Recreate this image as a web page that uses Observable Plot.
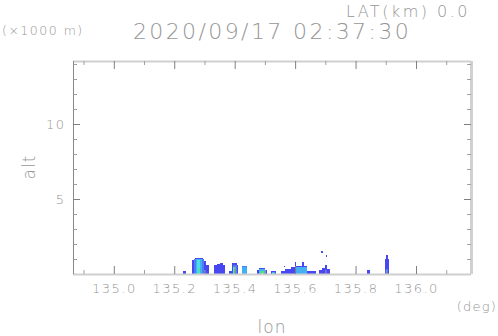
<!DOCTYPE html>
<html>
<head>
<meta charset="utf-8">
<script src="https://cdn.jsdelivr.net/npm/d3@7"></script>
<script src="https://cdn.jsdelivr.net/npm/@observablehq/plot@0.6"></script>
<style>
  html, body { margin: 0; padding: 0; background: #fff; }
</style>
</head>
<body>
<div id="chart"></div>
<script>
// ---- axes / ticks ----
const lonDomain = [134.865, 136.182];
const altDomain = [0, 14.2];
const xMajor = [135.0, 135.2, 135.4, 135.6, 135.8, 136.0];
const xMinor = [134.9, 135.1, 135.3, 135.5, 135.7, 135.9, 136.1];
const yMajor = [5, 10];
const yMinor = [1, 2, 3, 4, 6, 7, 8, 9, 11, 12, 13, 14];

// ---- echo intensity levels ----
const levels = [1, 2, 3, 4, 5, 6];
const levelColors = ["#4848f2", "#4a80f6", "#42b0f2", "#4cdcea", "#52e08e", "#d4e048"];

// ---- echo cells (lon from, lon to, alt from km, alt to km, level) ----
const segLon0 = [
  135.229, 135.259, 135.269, 135.295, 135.305,
  135.333, 135.341, 135.351, 135.360,
  135.381, 135.390, 135.407,
  135.423,
  135.475, 135.482, 135.500,
  135.519,
  135.552, 135.566, 135.588, 135.562,
  135.600, 135.604, 135.624,
  135.640,
  135.679, 135.688, 135.699, 135.704, 135.686, 135.701,
  135.837,
  135.897, 135.900,
  // level 2
  135.266, 135.395, 135.900,
  // level 3
  135.272, 135.604, 135.425, 135.482, 135.522,
  // level 4
  135.276, 135.396,
  // level 5
  135.278, 135.398, 135.485, 135.525,
  // level 6
  135.489
];
const segLon1 = [
  135.239, 135.269, 135.295, 135.305, 135.315,
  135.341, 135.351, 135.360, 135.368,
  135.390, 135.407, 135.412,
  135.442,
  135.482, 135.500, 135.507,
  135.537,
  135.566, 135.588, 135.600, 135.566,
  135.604, 135.640, 135.628,
  135.669,
  135.688, 135.699, 135.704, 135.715, 135.692, 135.704,
  135.848,
  135.911, 135.908,
  135.298, 135.407, 135.908,
  135.292, 135.638, 135.441, 135.500, 135.534,
  135.285, 135.403,
  135.283, 135.403, 135.497, 135.531,
  135.494
];
const segAlt0 = [
  0, 0, 0, 0, 0,
  0, 0, 0, 0,
  0, 0, 0,
  0,
  0, 0, 0,
  0,
  0, 0, 0, 0.45,
  0, 0, 0,
  0,
  0, 0, 0, 0, 1.42, 1.11,
  0,
  0, 1.00,
  0, 0, 0,
  0, 0, 0, 0, 0,
  0, 0,
  0, 0, 0, 0,
  0
];
const segAlt1 = [
  0.20, 0.93, 1.10, 0.89, 0.60,
  0.58, 0.67, 0.75, 0.60,
  0.22, 0.71, 0.60,
  0.53,
  0.27, 0.40, 0.27,
  0.20,
  0.22, 0.31, 0.45, 0.55,
  0.78, 0.55, 0.78,
  0.22,
  0.27, 0.42, 0.62, 0.31, 1.53, 1.29,
  0.27,
  1.00, 1.27,
  1.00, 0.60, 0.31,
  1.02, 0.50, 0.50, 0.31, 0.12,
  0.93, 0.50,
  0.40, 0.35, 0.18, 0.07,
  0.09
];
const segLevel = [
  1, 1, 1, 1, 1,
  1, 1, 1, 1,
  1, 1, 1,
  2,
  1, 1, 1,
  1,
  1, 1, 1, 1,
  1, 1, 1,
  1,
  1, 1, 1, 1, 1, 1,
  1,
  1, 1,
  2, 2, 2,
  3, 3, 3, 3, 3,
  4, 4,
  5, 5, 5, 5,
  6
];

// ---- texts ----
const titleText = "2020/09/17 02:37:30";
const latText = "LAT(km) 0.0";
const unitText = "(×1000 m)";
const xLabel = "lon";
const yLabel = "alt";
const xUnit = "(deg)";

const W = 498, H = 336;
const mL = 73, mR = 27, mT = 61, mB = 62;
const innerW = W - mL - mR, innerH = H - mT - mB;
const txt = "#969696";
const fam = "'DejaVu Sans', sans-serif";
const idx = segLon0.map((_, i) => i);

const plot = Plot.plot({
  width: W, height: H,
  marginLeft: mL, marginRight: mR, marginTop: mT, marginBottom: mB,
  x: {domain: lonDomain},
  y: {domain: altDomain},
  color: {type: "ordinal", domain: levels, range: levelColors},
  style: {fontFamily: fam, fontSize: "13px", fontWeight: 200, color: txt, background: "white", letterSpacing: "1.5px"},
  marks: [
    Plot.rect(idx, {x1: i => segLon0[i], x2: i => segLon1[i], y1: i => segAlt0[i], y2: i => segAlt1[i], fill: i => segLevel[i], shapeRendering: "crispEdges"}),
    // frame
    Plot.ruleY([altDomain[1]], {stroke: "#d0d0d0", strokeWidth: 2}),
    Plot.ruleX([lonDomain[1]], {stroke: "#d0d0d0", strokeWidth: 3}),
    Plot.ruleY([altDomain[0]], {stroke: "#cfcfcf", strokeWidth: 2}),
    Plot.ruleX([lonDomain[0]], {stroke: "#888", strokeWidth: 1}),
    // x ticks bottom / top
    Plot.ruleX(xMajor, {insetTop: innerH - 8, stroke: "#808080"}),
    Plot.ruleX(xMinor, {insetTop: innerH - 4, stroke: "#a0a0a0"}),
    Plot.ruleX(xMajor, {insetBottom: innerH - 8, stroke: "#808080"}),
    Plot.ruleX(xMinor, {insetBottom: innerH - 4, stroke: "#a0a0a0"}),
    // y ticks left / right
    Plot.ruleY(yMajor, {insetRight: innerW - 7, stroke: "#808080"}),
    Plot.ruleY(yMinor, {insetRight: innerW - 4, stroke: "#a0a0a0"}),
    Plot.ruleY(yMajor, {insetLeft: innerW - 7, stroke: "#808080"}),
    Plot.ruleY(yMinor, {insetLeft: innerW - 4, stroke: "#a0a0a0"}),
    // tick labels
    Plot.axisX({ticks: xMajor, tickSize: 0, tickPadding: 9, tickFormat: d3.format(".1f"), label: null, fill: txt, fontSize: 13}),
    Plot.axisY({ticks: yMajor, tickSize: 0, tickPadding: 8, tickFormat: d3.format("d"), label: null, fill: txt, fontSize: 13})
  ]
});

const svg = d3.select(plot);
function addText(s, x, y, size, anchor, spacing, rotate) {
  const t = svg.append("text")
    .attr("x", x).attr("y", y)
    .attr("fill", txt)
    .attr("font-family", fam)
    .attr("font-weight", 200)
    .attr("font-size", size)
    .attr("text-anchor", anchor)
    .attr("letter-spacing", spacing + "px")
    .text(s);
  if (rotate) t.attr("transform", `rotate(-90 ${x} ${y})`);
  return t;
}
addText(latText, 470, 17, 16, "end", 2.5);
addText(unitText, 2, 35, 12.5, "start", 1.5);
addText(titleText, 272, 39, 22, "middle", 2.4);
addText(yLabel, 35, 167, 17, "middle", 1, true);
addText(xLabel, 272, 333, 17, "middle", 1);
addText(xUnit, 497, 311, 13, "end", 1.2);

document.getElementById("chart").appendChild(plot);
</script>
</body>
</html>
